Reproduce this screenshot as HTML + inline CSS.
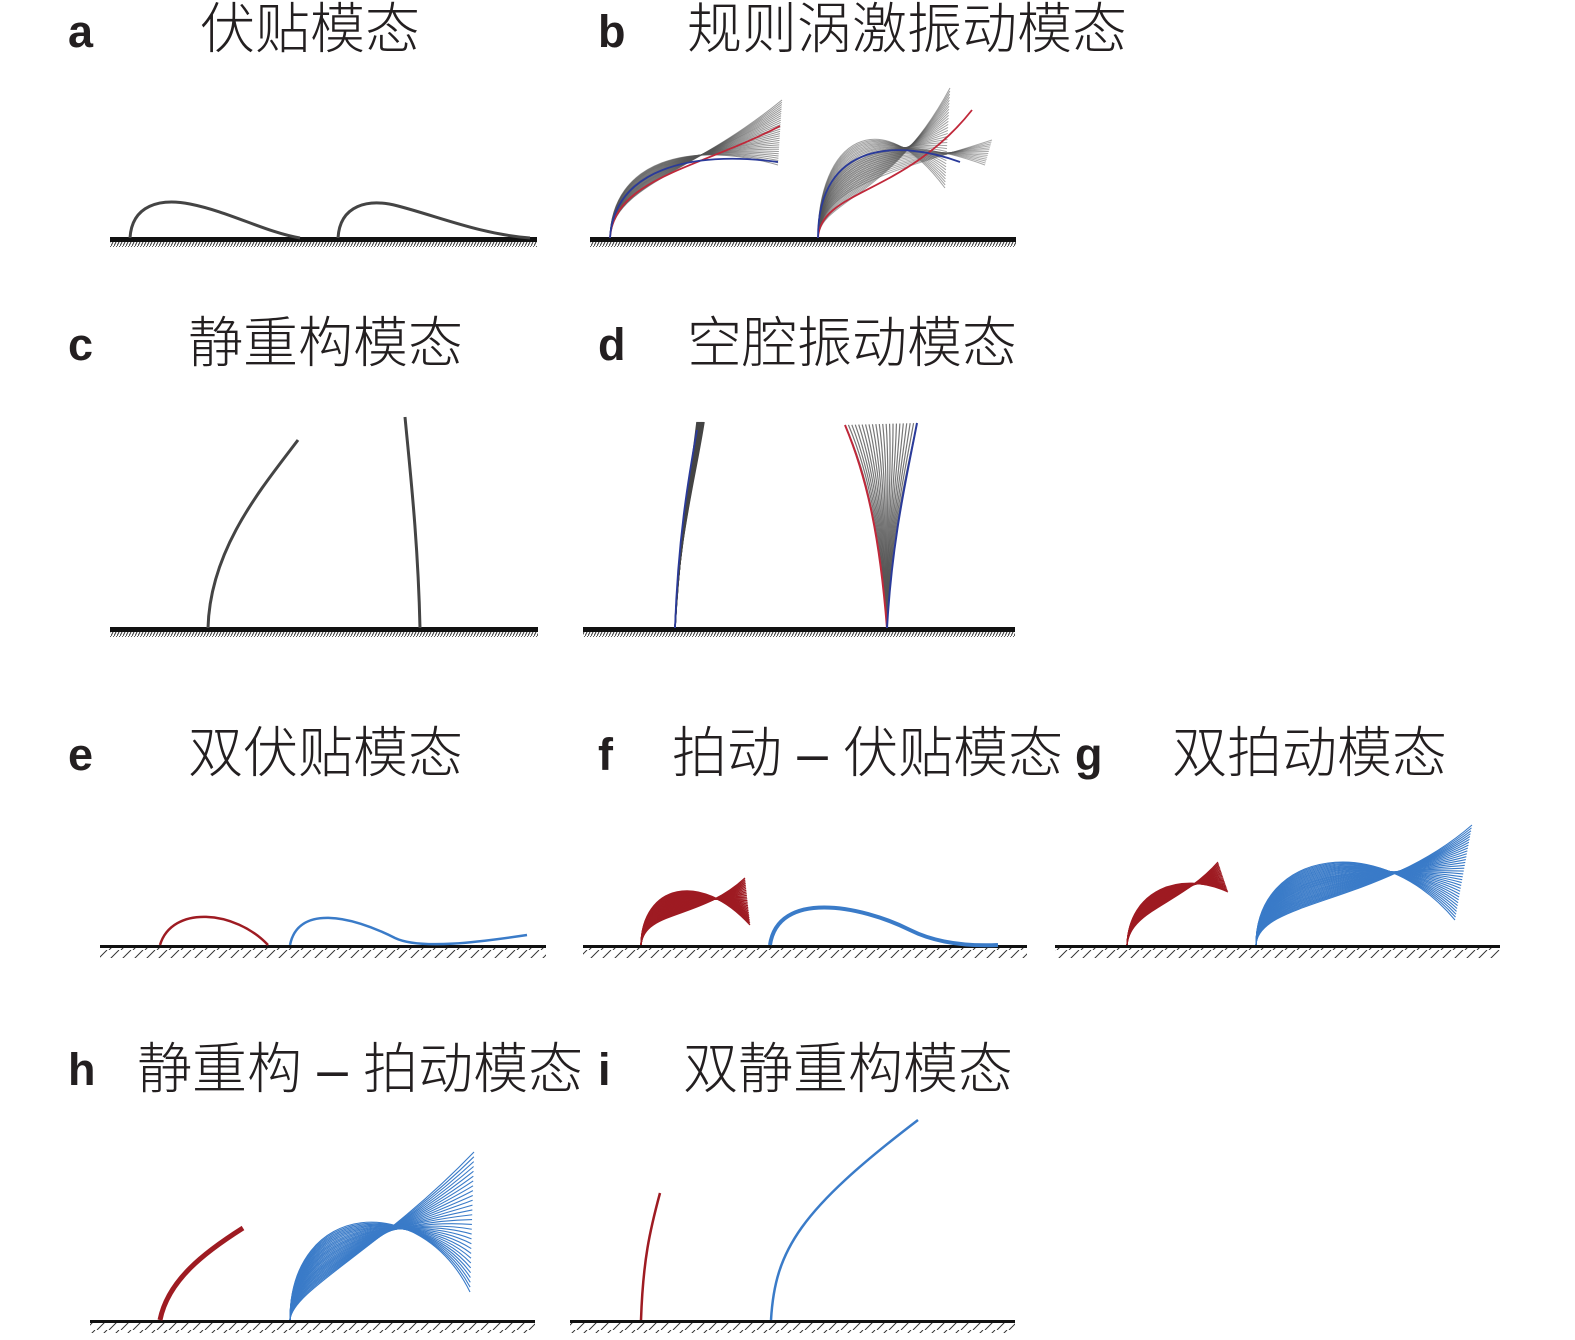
<!DOCTYPE html>
<html><head><meta charset="utf-8">
<style>
html,body{margin:0;padding:0;background:#fff;}
svg{display:block;}
.l{font-family:"Liberation Sans",Arial,sans-serif;font-weight:bold;font-size:45px;fill:#231f20;}
.t{font-family:"Liberation Sans","Noto Sans CJK SC",sans-serif;font-size:55px;fill:#231f20;font-weight:300;}
</style></head>
<body>
<svg id="s" width="1575" height="1340" viewBox="0 0 1575 1340" xmlns="http://www.w3.org/2000/svg">
<defs>
<pattern id="hd" width="3" height="6" patternUnits="userSpaceOnUse"><line x1="3" y1="0" x2="0" y2="6" stroke="#333" stroke-width="1"/></pattern>
<pattern id="hw" width="12" height="10" patternUnits="userSpaceOnUse"><line x1="11" y1="0" x2="1" y2="10" stroke="#333" stroke-width="1"/></pattern>
</defs>
<text class="l" x="68" y="47">a</text><text class="t" x="200" y="48">伏贴模态</text>
<text class="l" x="598" y="47">b</text><text class="t" x="687" y="48">规则涡激振动模态</text>
<text class="l" x="68" y="360">c</text><text class="t" x="188" y="362">静重构模态</text>
<text class="l" x="598" y="360">d</text><text class="t" x="687" y="362">空腔振动模态</text>
<text class="l" x="68" y="770">e</text><text class="t" x="188" y="772">双伏贴模态</text>
<text class="l" x="598" y="770">f</text><text class="t" x="672" y="772">拍动 – 伏贴模态</text>
<text class="l" x="1075" y="770">g</text><text class="t" x="1172" y="772">双拍动模态</text>
<text class="l" x="68" y="1085">h</text><text class="t" x="137" y="1088">静重构 – 拍动模态</text>
<text class="l" x="598" y="1085">i</text><text class="t" x="683" y="1088">双静重构模态</text>

<g>
<rect x="110" y="237" width="427" height="5" fill="#111"/><rect x="110" y="242" width="427" height="5" fill="url(#hd)"/>
<rect x="590" y="237" width="426" height="5" fill="#111"/><rect x="590" y="242" width="426" height="5" fill="url(#hd)"/>
<rect x="110" y="627" width="428" height="5" fill="#111"/><rect x="110" y="632" width="428" height="5" fill="url(#hd)"/>
<rect x="583" y="627" width="432" height="5" fill="#111"/><rect x="583" y="632" width="432" height="5" fill="url(#hd)"/>
</g>
<g>
<rect x="100" y="945" width="446" height="3" fill="#111"/><rect x="100" y="948" width="446" height="10" fill="url(#hw)"/>
<rect x="583" y="945" width="444" height="3" fill="#111"/><rect x="583" y="948" width="444" height="10" fill="url(#hw)"/>
<rect x="1055" y="945" width="445" height="3" fill="#111"/><rect x="1055" y="948" width="445" height="10" fill="url(#hw)"/>
<rect x="90" y="1320" width="445" height="3" fill="#111"/><rect x="90" y="1323" width="445" height="10" fill="url(#hw)"/>
<rect x="570" y="1320" width="445" height="3" fill="#111"/><rect x="570" y="1323" width="445" height="10" fill="url(#hw)"/>
</g>
<g fill="none" stroke="#444" stroke-width="3">
<path d="M130,238 C132,205 160,198 190,204 C230,212 265,232 300,238"/>
<path d="M338,238 C340,205 368,198 398,206 C440,217 480,234 530,238"/>
</g>
<g fill="none" stroke="#444" stroke-width="3">
<path d="M208,628 C210,550 260,490 298,440"/>
<path d="M420,628 C418,540 410,470 405,417"/>
</g>
<g fill="none" stroke-width="2.5">
<path stroke="#9e1b22" d="M160,945 C172,905 235,910 268,945"/>
<path stroke="#3a7bc8" d="M290,945 C298,905 350,915 395,938 C420,950 480,942 527,935"/>
</g>
<path fill="none" stroke="#3a7bc8" stroke-width="4" d="M770,945 C778,890 860,905 910,930 C940,945 975,946 998,945"/>
<path fill="none" stroke="#9e1b22" stroke-width="5" d="M160,1320 C168,1280 205,1252 243,1228"/>
<path fill="none" stroke="#9e1b22" stroke-width="2.5" d="M641,1320 C643,1260 650,1230 660,1193"/>
<path fill="none" stroke="#3a7bc8" stroke-width="2.5" d="M771,1320 C775,1250 800,1210 918,1120"/>
<g id="fans"></g>
</svg>
<script>
var g=document.getElementById('fans');
function fan(b,A,B,n,col,w,op){
 for(var i=0;i<n;i++){var t=i/(n-1);
  var p=[0,1,2].map(function(k){return [A[k][0]*(1-t)+B[k][0]*t,A[k][1]*(1-t)+B[k][1]*t];});
  var e=document.createElementNS('http://www.w3.org/2000/svg','path');
  e.setAttribute('d','M'+b[0]+','+b[1]+' C'+p[0]+' '+p[1]+' '+p[2]);
  e.setAttribute('fill','none');e.setAttribute('stroke',col);e.setAttribute('stroke-width',w);
  if(op)e.setAttribute('stroke-opacity',op);g.appendChild(e);}
}
function line(d,col,w){var e=document.createElementNS('http://www.w3.org/2000/svg','path');e.setAttribute('d',d);e.setAttribute('fill','none');e.setAttribute('stroke',col);e.setAttribute('stroke-width',w);g.appendChild(e);}
// b
fan([610,238],[[614,185],[690,175],[782,100]],[[612,160],[690,140],[778,165]],30,'#555',1,0.6);
line('M610,238 C614,178 700,168 780,126','#c0283a',1.8);
line('M610,238 C614,170 690,150 778,162','#2a3a9a',1.8);
fan([818,238],[[820,200],[890,200],[950,88]],[[818,140],[880,100],[945,188]],34,'#555',1,0.55);
fan([818,238],[[820,185],[900,170],[992,140]],[[818,150],[890,130],[985,165]],14,'#555',1,0.5);
line('M818,238 C820,190 905,195 972,110','#c0283a',1.8);
line('M818,238 C818,140 900,140 960,162','#2a3a9a',1.8);
// d
fan([675,628],[[680,540],[690,480],[697,422]],[[678,540],[695,480],[704,422]],10,'#444',1.5);
line('M675,628 C678,540 688,480 697,430','#2a3a9a',1.8);
fan([887,628],[[880,540],[870,480],[845,425]],[[890,540],[905,480],[917,423]],22,'#555',1.2,0.8);
line('M887,628 C880,540 868,480 845,425','#c0283a',2);
line('M887,628 C892,540 906,480 917,423','#2a3a9a',2);
// f red
fan([641,945],[[644,910],[700,920],[745,878]],[[642,885],[700,870],[750,925]],28,'#9e1b22',1.3);
// g
fan([1127,945],[[1130,910],[1180,905],[1218,862]],[[1129,890],[1180,870],[1228,892]],24,'#9e1b22',1.2);
fan([1256,945],[[1258,900],[1380,905],[1472,825]],[[1256,850],[1380,830],[1455,920]],34,'#3a7bc8',1.1);
// h
fan([290,1320],[[292,1290],[380,1250],[474,1152]],[[290,1200],[420,1190],[470,1292]],30,'#3a7bc8',1.1);
</script>
</body></html>
